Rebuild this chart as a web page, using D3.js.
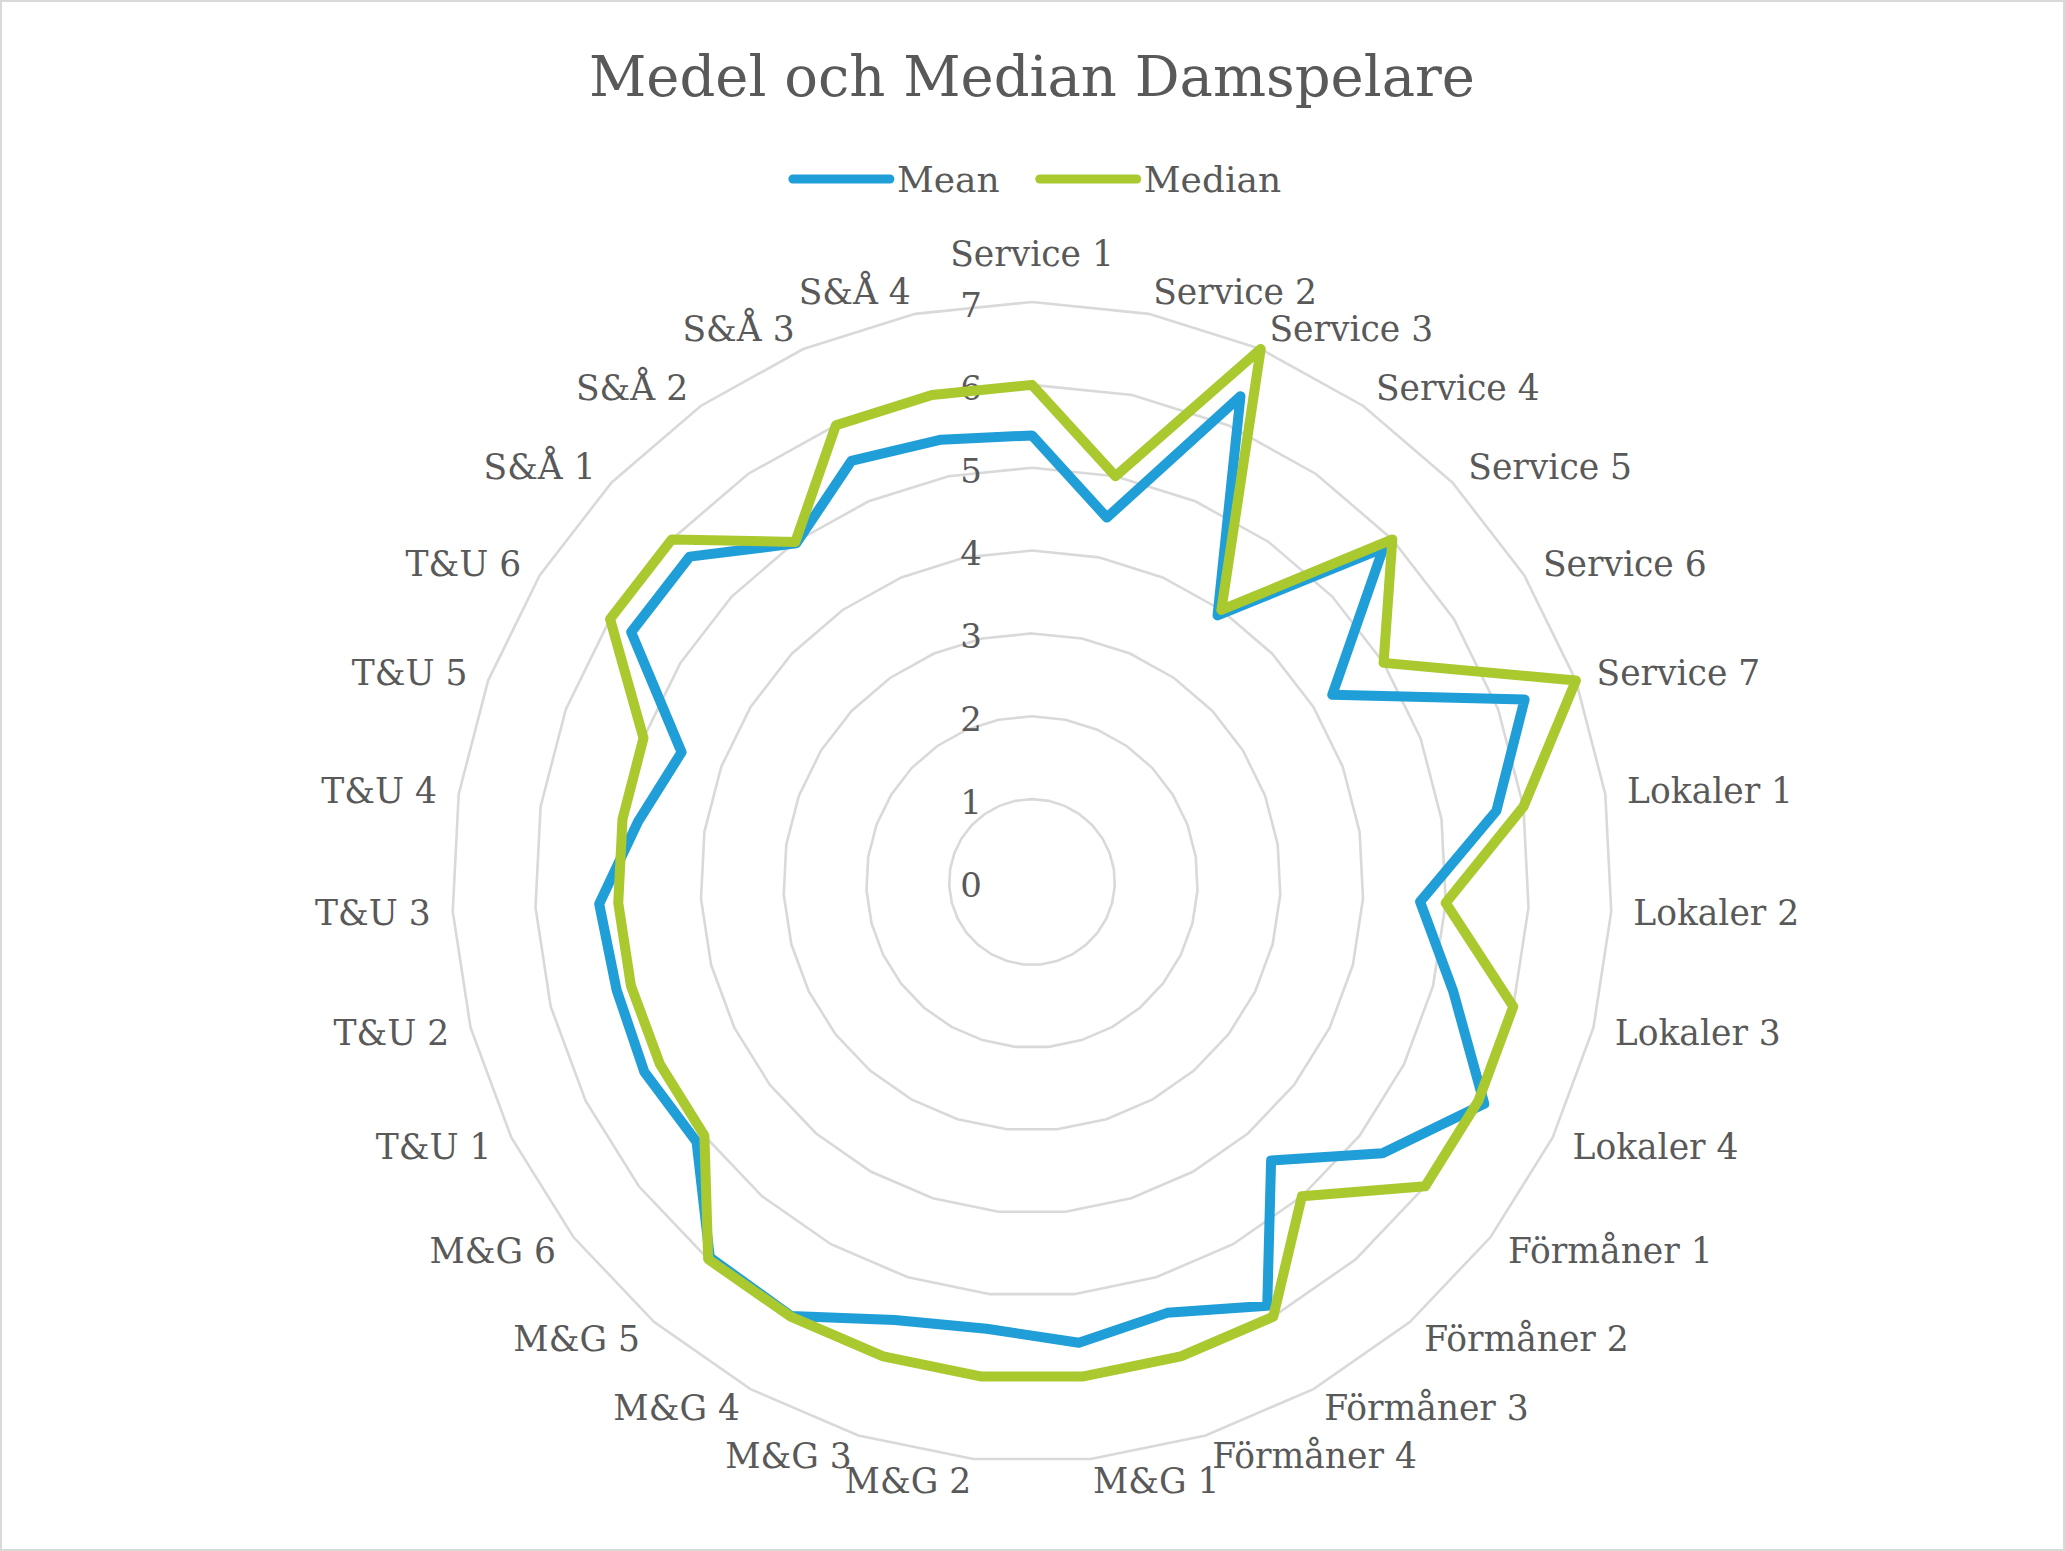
<!DOCTYPE html>
<html>
<head>
<meta charset="utf-8">
<script src="https://cdn.jsdelivr.net/npm/d3@7"></script>
<style>
  html, body { margin: 0; padding: 0; background: #ffffff; }
  svg { display: block; }
</style>
</head>
<body>
<svg id="chart" width="2065" height="1551"></svg>
<script>
// ---------- data ----------
const categories = [
  "Service 1", "Service 2", "Service 3", "Service 4", "Service 5", "Service 6", "Service 7",
  "Lokaler 1", "Lokaler 2", "Lokaler 3", "Lokaler 4",
  "Förmåner 1", "Förmåner 2", "Förmåner 3", "Förmåner 4",
  "M&G 1", "M&G 2", "M&G 3", "M&G 4", "M&G 5", "M&G 6",
  "T&U 1", "T&U 2", "T&U 3", "T&U 4", "T&U 5", "T&U 6",
  "S&Å 1", "S&Å 2", "S&Å 3", "S&Å 4"
];
const meanValues = [
  5.39, 4.49, 6.38, 3.92, 5.85, 4.27, 6.34,
  5.67, 4.69, 5.25, 6.08,
  5.35, 4.43, 5.85, 5.45,
  5.59, 5.42, 5.54, 5.99, 5.97, 5.12,
  5.21, 5.18, 5.23, 4.81, 4.51, 5.70,
  5.70, 4.98, 5.53, 5.45
];
const medianValues = [
  6, 5, 7, 4, 6, 5, 7,
  6, 5, 6, 6,
  6, 5, 6, 6,
  6, 6, 6, 6, 6, 5,
  5, 5, 5, 5, 5, 6,
  6, 5, 6, 6
];
const tickValues = [0, 1, 2, 3, 4, 5, 6, 7];
const seriesNames = ["Mean", "Median"];
const seriesColors = ["#1F9ED8", "#A9C92F"];
const titleText = "Medel och Median Damspelare";

// ---------- layout ----------
const W = 2065, H = 1551;
const cx = 1032, cy = 882, R = 580;
const FONT = "'DejaVu Serif', Georgia, serif";
const TEXT = "#595959";
const GRID = "#D9D9D9";

const svg = d3.select("#chart");
svg.append("rect").attr("x", 1).attr("y", 1).attr("width", W - 2).attr("height", H - 2)
  .attr("fill", "#ffffff").attr("stroke", GRID).attr("stroke-width", 2);

const n = categories.length;
const r = d3.scaleLinear().domain([0, 7]).range([0, R]);
const angle = d3.scaleLinear().domain([0, n]).range([0, 2 * Math.PI]);

const g = svg.append("g").attr("transform", `translate(${cx},${cy})`);

// grid rings (polygons)
const ringLine = d3.lineRadial()
  .angle((d, i) => angle(i))
  .radius(d => r(d))
  .curve(d3.curveLinearClosed);
tickValues.filter(v => v > 0).forEach(v => {
  g.append("path")
    .attr("d", ringLine(categories.map(() => v)))
    .attr("fill", "none")
    .attr("stroke", GRID)
    .attr("stroke-width", 2.6);
});

// tick labels
g.selectAll("text.tick").data(tickValues).join("text")
  .attr("class", "tick")
  .attr("x", -50)
  .attr("y", d => -r(d) + 3)
  .attr("dy", "0.35em")
  .attr("text-anchor", "end")
  .attr("font-family", FONT)
  .attr("font-size", 34)
  .attr("fill", TEXT)
  .text(d => d);

// category labels
const pad = 22;
g.selectAll("text.cat").data(categories).join("text")
  .attr("class", "cat")
  .each(function(d, i) {
    const a = angle(i);
    const s = Math.sin(a), c = Math.cos(a);
    const px = (R + pad) * s, py = -(R + pad) * c;
    let anchor = "middle", yy = py;
    if (Math.abs(s) < 0.05) { yy = py - c * 26; }
    else anchor = s > 0 ? "start" : "end";
    d3.select(this)
      .attr("x", px).attr("y", yy).attr("dy", "0.35em")
      .attr("text-anchor", anchor);
  })
  .attr("font-family", FONT)
  .attr("font-size", 34.5)
  .attr("fill", TEXT)
  .text(d => d);

// series
const seriesLine = d3.lineRadial()
  .angle((d, i) => angle(i))
  .radius(d => r(d))
  .curve(d3.curveLinearClosed);
[meanValues, medianValues].forEach((vals, si) => {
  g.append("path")
    .attr("d", seriesLine(vals))
    .attr("fill", "none")
    .attr("stroke", seriesColors[si])
    .attr("stroke-width", 10)
    .attr("stroke-linejoin", "round");
});

// title
svg.append("text")
  .attr("x", 1032).attr("y", 96)
  .attr("text-anchor", "middle")
  .attr("font-family", FONT)
  .attr("font-size", 56)
  .attr("fill", TEXT)
  .text(titleText);

// legend
const lg = svg.append("g");
let lx = 0;
seriesNames.forEach((name, i) => {
  const it = lg.append("g");
  it.append("line").attr("x1", 0).attr("x2", 97).attr("y1", 0).attr("y2", 0)
    .attr("stroke", seriesColors[i]).attr("stroke-width", 9).attr("stroke-linecap", "round");
  const t = it.append("text").attr("x", 104).attr("y", 0).attr("dy", "0.35em")
    .attr("font-family", FONT).attr("font-size", 36).attr("fill", TEXT).text(name);
  it.attr("transform", `translate(${lx},0)`);
  lx += 104 + t.node().getComputedTextLength() + 40;
});
const totalW = lx - 40;
lg.attr("transform", `translate(${1037 - totalW / 2},179)`);
</script>
</body>
</html>
